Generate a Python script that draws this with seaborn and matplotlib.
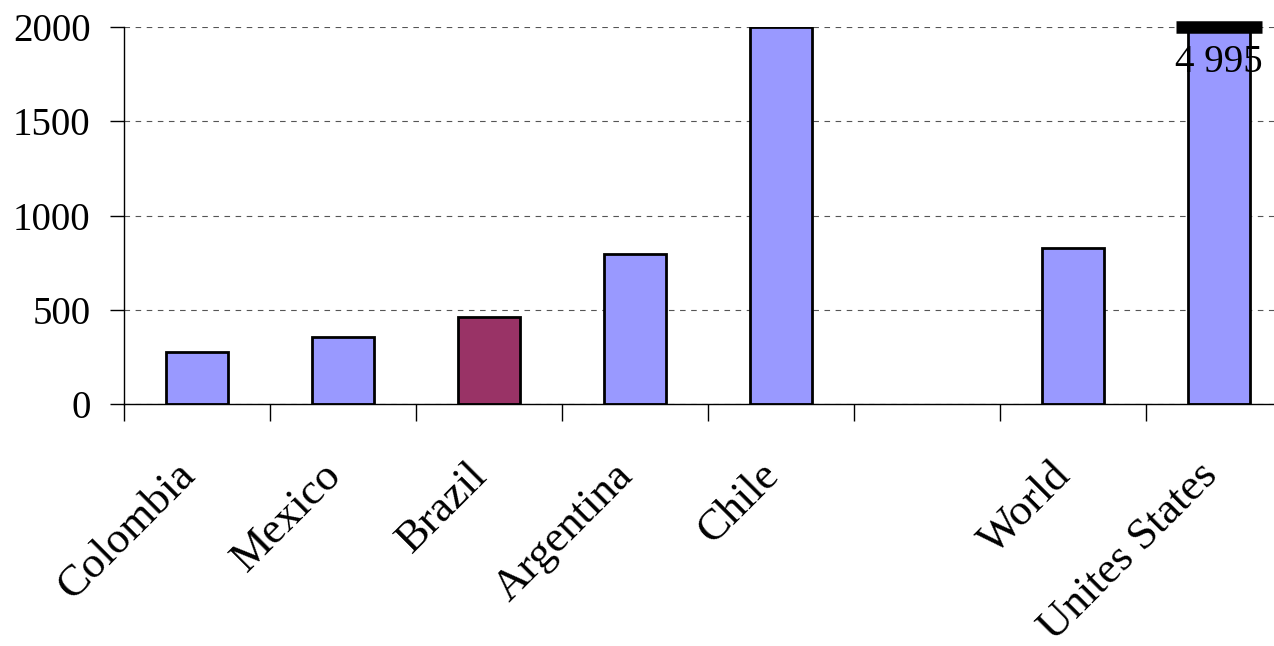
import pandas as pd
import seaborn as sns
import matplotlib.pyplot as plt
import matplotlib.transforms as mtransforms

# Data
countries = ["Colombia", "Mexico", "Brazil", "Argentina", "Chile", "World", "Unites States"]
values = [276, 355, 462, 796, 2000, 828, 4995]
bar_colors = ["#9999FF", "#9999FF", "#993366", "#9999FF", "#9999FF", "#9999FF", "#9999FF"]
slots = ["Colombia", "Mexico", "Brazil", "Argentina", "Chile", " ", "World", "Unites States"]
y_ticks = [0, 500, 1000, 1500, 2000]
y_max = 2000

df = pd.DataFrame({"country": countries, "value": values})
palette = dict(zip(countries, bar_colors))

sns.set_style("white")
plt.rcParams["font.family"] = ["Liberation Serif", "DejaVu Serif"]
plt.rcParams["text.color"] = "black"
plt.rcParams["xtick.color"] = "black"
plt.rcParams["ytick.color"] = "black"

fig = plt.figure(figsize=(12.74, 6.46), dpi=100)
ax = fig.add_axes([124 / 1274, (646 - 404) / 646, 1168 / 1274, 377 / 646])

sns.barplot(data=df, x="country", y="value", hue="country", order=slots,
            palette=palette, width=0.42, edgecolor="black", linewidth=2,
            legend=False, saturation=1, ax=ax)

ax.set_ylim(0, y_max)
ax.set_xlim(-0.5, len(slots) - 0.5)
ax.set_yticks(y_ticks)
ax.set_yticklabels([str(v) for v in y_ticks], fontsize=28)
ax.set_xlabel("")
ax.set_ylabel("")

# category labels at centres, tick marks at boundaries
ax.set_xticks(range(len(slots)))
ax.set_xticklabels([s.strip() for s in slots], fontsize=32, rotation=45,
                   ha="right", va="center", rotation_mode="anchor")
ax.set_xticks([i - 0.5 for i in range(len(slots))], minor=True)
ax.tick_params(axis="x", which="major", bottom=True, length=0, pad=47)
ax.tick_params(axis="x", which="minor", bottom=True, length=12, width=1, direction="out")
ax.tick_params(axis="y", left=True, length=10, width=1, direction="out", pad=14)

shift = mtransforms.ScaledTranslation(-0.08, 0, fig.dpi_scale_trans)
for lab in ax.get_xticklabels():
    lab.set_transform(lab.get_transform() + shift)

ax.yaxis.grid(True, linestyle=(0, (5, 5)), color="#555555", linewidth=0.8)
ax.set_axisbelow(True)
for side in ["top", "right"]:
    ax.spines[side].set_visible(False)
for side in ["left", "bottom"]:
    ax.spines[side].set_color("black")
    ax.spines[side].set_linewidth(1)

# broken-scale cap on the US bar
us_bar = [p for p in ax.patches if p.get_height() > y_max][0]
bx, bw = us_bar.get_x(), us_bar.get_width()
ax.plot([bx - 0.2 * bw, bx + 1.2 * bw], [y_max, y_max], color="black", lw=9,
        solid_capstyle="butt", clip_on=False, zorder=5)
ax.annotate(f"{values[-1]:,}".replace(",", " "), xy=(bx + bw / 2, y_max),
            xytext=(0, -12), textcoords="offset points", ha="center", va="top",
            fontsize=28, zorder=6)

fig.savefig("out.png", dpi=100)
